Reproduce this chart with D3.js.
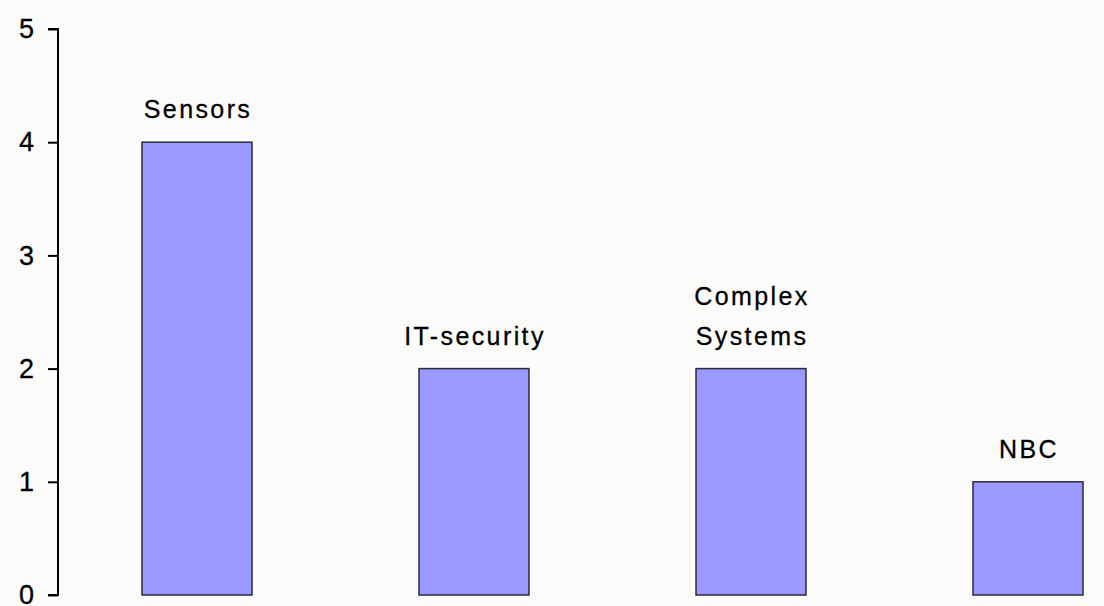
<!DOCTYPE html>
<html>
<head>
<meta charset="utf-8">
<script src="https://cdn.jsdelivr.net/npm/d3@7/dist/d3.min.js"></script>
<style>
  html, body { margin: 0; padding: 0; background: #fbfbf9; }
  svg { display: block; }
  text { font-family: Arial, "Liberation Sans", sans-serif; fill: #000; }
</style>
</head>
<body>
<svg id="chart" width="1104" height="606"></svg>
<script>
// Categories (multi-line labels as arrays of lines) and their values
const categories = ["Sensors", "IT-security", "Complex Systems", "NBC"];
const labelLines = [["Sensors"], ["IT-security"], ["Complex", "Systems"], ["NBC"]];
const values = [4, 2, 2, 1];
const yTicks = [0, 1, 2, 3, 4, 5];

const svg = d3.select("#chart");
const axisX = 58;
const yTop = 29, yBottom = 595;

const x = d3.scaleBand()
  .domain(categories)
  .range([axisX + 0.5, axisX + 0.5 + 277 * categories.length])
  .paddingInner(0.603)
  .paddingOuter(0.3015);

const y = d3.scaleLinear().domain([0, 5]).range([yBottom, yTop]);

// Bars
svg.append("g").selectAll("rect")
  .data(categories)
  .join("rect")
  .attr("x", d => x(d))
  .attr("y", (d, i) => y(values[i]))
  .attr("width", x.bandwidth())
  .attr("height", (d, i) => y(0) - y(values[i]))
  .attr("fill", "#9999ff")
  .attr("stroke", "#2a2a3a")
  .attr("stroke-width", 1.5);

// Category labels above bars
const labels = svg.append("g").selectAll("text")
  .data(categories)
  .join("text")
  .attr("text-anchor", "middle")
  .style("font-size", "25px")
  .style("letter-spacing", "2.4px")
  .attr("stroke", "#000")
  .attr("stroke-width", 0.3)
  .attr("transform", (d, i) => {
    const n = labelLines[i].length;
    const cx = x(d) + x.bandwidth() / 2 + 1;
    const base = y(values[i]) - 24 - (n - 1) * 40;
    return `translate(${cx},${base})`;
  });
labels.each(function(d, i) {
  d3.select(this).selectAll("tspan")
    .data(labelLines[i])
    .join("tspan")
    .attr("x", 0)
    .attr("dy", (l, j) => j === 0 ? 0 : 40)
    .text(l => l);
});

// Y axis
const yAxis = d3.axisLeft(y)
  .tickValues(yTicks)
  .tickFormat(d3.format("d"))
  .tickSize(10)
  .tickPadding(14);

const gy = svg.append("g")
  .attr("transform", `translate(${axisX},0)`)
  .call(yAxis);
gy.select(".domain").attr("stroke", "#000").attr("stroke-width", 2)
  .attr("d", `M-10,${yTop}H0V${yBottom}H-10`);
gy.selectAll(".tick line").attr("stroke", "#000").attr("stroke-width", 2);
gy.selectAll(".tick text")
  .style("font-size", "27px")
  .style("font-family", "Arial, 'Liberation Sans', sans-serif")
  .attr("stroke", "#000")
  .attr("stroke-width", 0.3)
  .attr("fill", "#000");
</script>
</body>
</html>
